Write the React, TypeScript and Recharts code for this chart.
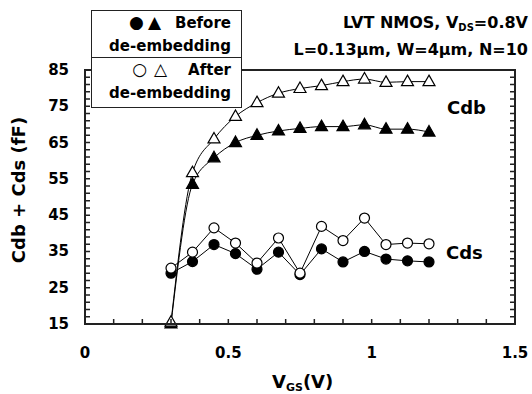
import {
  LineChart,
  Line,
  XAxis,
  YAxis,
} from "recharts";

const vgs = [0.3, 0.375, 0.45, 0.525, 0.6, 0.675, 0.75, 0.825, 0.9, 0.975, 1.05, 1.125, 1.2];
const cdbBefore = [15, 53.5, 60.8, 65.0, 67.0, 68.2, 68.9, 69.4, 69.4, 69.9, 68.7, 68.7, 67.9];
const cdbAfter = [15.5, 56.7, 66.0, 72.2, 76.0, 78.6, 79.9, 80.7, 81.8, 82.5, 81.6, 81.8, 81.8];
const cdsBefore = [29.0, 32.2, 36.9, 34.4, 30.1, 34.8, 28.6, 35.7, 32.1, 35.0, 32.9, 32.4, 32.1];
const cdsAfter = [30.4, 34.8, 41.5, 37.3, 31.8, 38.7, 29.0, 41.9, 38.0, 44.2, 36.9, 37.3, 37.1];

const xTicks = [0, 0.1, 0.2, 0.3, 0.4, 0.5, 0.6, 0.7, 0.8, 0.9, 1, 1.1, 1.2, 1.3, 1.4, 1.5];
const xLabels = [0, 0.5, 1, 1.5];
const yTicks = [15, 17, 19, 21, 23, 25, 27, 29, 31, 33, 35, 37, 39, 41, 43, 45, 47, 49, 51, 53, 55, 57, 59, 61, 63, 65, 67, 69, 71, 73, 75, 77, 79, 81, 83, 85];
const yLabels = [15, 25, 35, 45, 55, 65, 75, 85];

const X_MIN = 0;
const X_MAX = 1.5;
const Y_MIN = 15;
const Y_MAX = 85;

// plot box (px); the chart margins are derived from it
const W = 532;
const H = 394;
const LEFT = 85;
const TOP = 70;
const RIGHT = 515;
const BOTTOM = 324;
const X_AXIS_H = 40;
const TICK = 5;

const data = vgs.map((v, i) => ({
  vgs: v,
  cdbBefore: cdbBefore[i],
  cdbAfter: cdbAfter[i],
  cdsBefore: cdsBefore[i],
  cdsAfter: cdsAfter[i],
}));

const FONT = "'DejaVu Sans', Verdana, sans-serif";
const AXIS = "#222";

const circleDot = (filled: boolean) => (props: any) => {
  const { cx, cy, index } = props;
  if (cx == null || cy == null) return <g key={`c${index}`} />;
  return (
    <circle
      key={`c${index}`}
      cx={cx}
      cy={cy}
      r={5}
      fill={filled ? "#000" : "#fff"}
      stroke="#000"
      strokeWidth={1.2}
    />
  );
};

const triDot = (filled: boolean) => (props: any) => {
  const { cx, cy, index } = props;
  if (cx == null || cy == null) return <g key={`t${index}`} />;
  return (
    <path
      key={`t${index}`}
      d={`M${cx},${cy - 6.5} L${cx + 6},${cy + 4} L${cx - 6},${cy + 4} Z`}
      fill={filled ? "#000" : "#fff"}
      stroke="#000"
      strokeWidth={1.2}
    />
  );
};

const LeftTick = (props: any) => {
  const { x, y, payload } = props;
  const v = payload.value;
  if (!yLabels.includes(v)) return <g />;
  return (
    <text x={x - 16} y={y + 5} textAnchor="end" fontSize={15} fontWeight={700} fill="#000" fontFamily={FONT}>
      {v}
    </text>
  );
};

const BottomTick = (props: any) => {
  const { x, y, payload } = props;
  const v = payload.value;
  if (!xLabels.includes(v)) return <g />;
  return (
    <text x={x} y={y + 34} textAnchor="middle" fontSize={15} fontWeight={700} fill="#000" fontFamily={FONT}>
      {v}
    </text>
  );
};

// frame with inward ticks on left, right and bottom
const Frame = () => {
  const px = (v: number) => LEFT + ((v - X_MIN) / (X_MAX - X_MIN)) * (RIGHT - LEFT);
  const py = (v: number) => BOTTOM - ((v - Y_MIN) / (Y_MAX - Y_MIN)) * (BOTTOM - TOP);
  let ticks = "";
  yTicks.forEach((t) => {
    const y = py(t);
    ticks += `M${LEFT},${y}h${TICK}M${RIGHT},${y}h${-TICK}`;
  });
  xTicks.forEach((t) => {
    const x = px(t);
    ticks += `M${x},${BOTTOM}v${-TICK}`;
  });
  return (
    <svg
      width={W}
      height={H}
      style={{ position: "absolute", left: 0, top: 0, pointerEvents: "none" }}
    >
      <rect
        x={LEFT}
        y={TOP}
        width={RIGHT - LEFT}
        height={BOTTOM - TOP}
        fill="none"
        stroke={AXIS}
        strokeWidth={2}
      />
      <path d={ticks} fill="none" stroke={AXIS} strokeWidth={1.5} />
    </svg>
  );
};

const App = () => {
  return (
    <div
      style={{
        position: "absolute",
        left: 0,
        top: 0,
        width: W,
        height: H,
        background: "#fff",
        fontFamily: FONT,
        fontWeight: 700,
        color: "#000",
      }}
    >
      <LineChart
        width={W}
        height={H}
        data={data}
        margin={{ top: TOP, right: W - RIGHT, bottom: H - BOTTOM - X_AXIS_H, left: 0 }}
      >
        <XAxis
          dataKey="vgs"
          type="number"
          domain={[X_MIN, X_MAX]}
          ticks={xTicks}
          interval={0}
          height={X_AXIS_H}
          tickSize={0}
          tickMargin={0}
          tickLine={false}
          axisLine={false}
          tick={<BottomTick />}
        />
        <YAxis
          yAxisId="left"
          type="number"
          domain={[Y_MIN, Y_MAX]}
          ticks={yTicks}
          interval={0}
          width={LEFT}
          tickSize={0}
          tickMargin={0}
          tickLine={false}
          axisLine={false}
          tick={<LeftTick />}
        />
        <Line
          yAxisId="left"
          dataKey="cdsBefore"
          type="linear"
          stroke="#000"
          strokeWidth={1}
          dot={circleDot(true)}
          isAnimationActive={false}
        />
        <Line
          yAxisId="left"
          dataKey="cdsAfter"
          type="linear"
          stroke="#000"
          strokeWidth={1}
          dot={circleDot(false)}
          isAnimationActive={false}
        />
        <Line
          yAxisId="left"
          dataKey="cdbBefore"
          type="monotone"
          stroke="#000"
          strokeWidth={1}
          dot={triDot(true)}
          isAnimationActive={false}
        />
        <Line
          yAxisId="left"
          dataKey="cdbAfter"
          type="monotone"
          stroke="#000"
          strokeWidth={1}
          dot={triDot(false)}
          isAnimationActive={false}
        />
      </LineChart>

      <Frame />

      {/* legend box */}
      <div
        style={{
          position: "absolute",
          left: 91,
          top: 10,
          width: 149,
          height: 96,
          border: "1px solid #222",
          background: "#fff",
          fontSize: 15,
          lineHeight: "23px",
          textAlign: "right",
        }}
      >
        <div style={{ height: 46, borderBottom: "1px solid #222", paddingRight: 10 }}>
          <div>
            <span style={{ fontSize: 17, letterSpacing: 4 }}>●▲</span>
            <span style={{ marginLeft: 10 }}>Before</span>
          </div>
          <div>de-embedding</div>
        </div>
        <div style={{ paddingRight: 10 }}>
          <div>
            <span style={{ fontSize: 17, fontWeight: 400, letterSpacing: 7 }}>○△</span>
            <span style={{ marginLeft: 14 }}>After</span>
          </div>
          <div>de-embedding</div>
        </div>
      </div>

      {/* conditions */}
      <div
        style={{
          position: "absolute",
          right: 4,
          top: 12,
          fontSize: 16,
          lineHeight: "22px",
          textAlign: "right",
          whiteSpace: "nowrap",
        }}
      >
        <div>
          LVT NMOS, V<sub style={{ fontSize: 10, verticalAlign: "-3px" }}>DS</sub>=0.8V
        </div>
        <div>L=0.13μm, W=4μm, N=10</div>
      </div>

      {/* series labels */}
      <div style={{ position: "absolute", left: 447, top: 97, fontSize: 18, lineHeight: "22px" }}>Cdb</div>
      <div style={{ position: "absolute", left: 446, top: 242, fontSize: 18, lineHeight: "22px" }}>Cds</div>

      {/* x axis title */}
      <div
        style={{
          position: "absolute",
          left: 272,
          top: 370,
          fontSize: 18,
          lineHeight: "24px",
          whiteSpace: "nowrap",
        }}
      >
        V<sub style={{ fontSize: 11, verticalAlign: "-3px" }}>GS</sub>(V)
      </div>

      {/* y axis title */}
      <div
        style={{
          position: "absolute",
          left: 19,
          top: 190,
          fontSize: 18,
          lineHeight: "22px",
          whiteSpace: "nowrap",
          transform: "translate(-50%, -50%) rotate(-90deg)",
        }}
      >
        Cdb + Cds (fF)
      </div>
    </div>
  );
};

export default App;
